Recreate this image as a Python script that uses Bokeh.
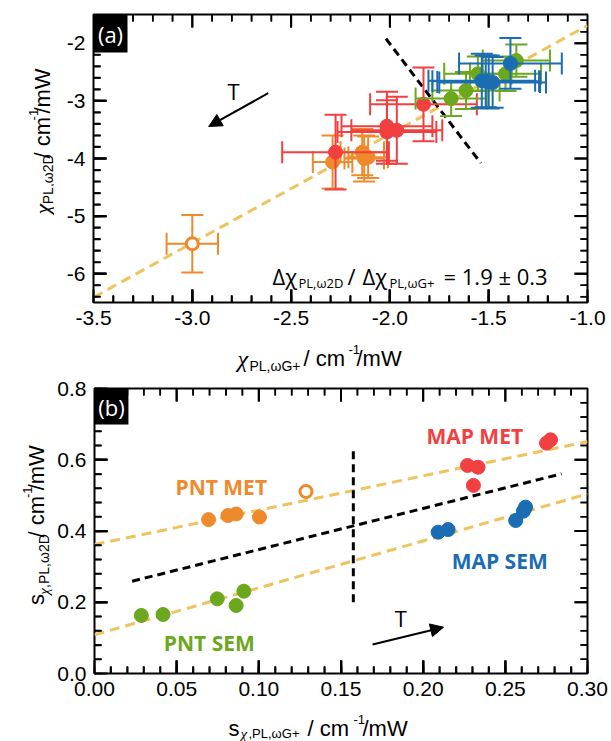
import numpy as np
from bokeh.plotting import figure
from bokeh.models import (FixedTicker, NumeralTickFormatter, Label, Whisker, ColumnDataSource,
                          Arrow, NormalHead, BoxAnnotation, Range1d)
from bokeh.layouts import column, row
from bokeh.embed import file_html
from bokeh.resources import INLINE

# ---------------- panel (a) data ----------------
a_pntmet_x = [-2.29, -2.14, -2.13, -2.11]
a_pntmet_y = [-4.06, -3.89, -4.00, -3.98]
a_pntmet_xerr = [0.10, 0.11, 0.10, 0.10]
a_pntmet_yerr = [0.46, 0.40, 0.40, 0.36]

a_pntmet_open_x = [-3.00]
a_pntmet_open_y = [-5.48]
a_pntmet_open_xerr = [0.13]
a_pntmet_open_yerr = [0.50]

a_mapmet_x = [-2.275, -2.015, -2.015, -1.965, -1.83]
a_mapmet_y = [-3.89, -3.44, -3.54, -3.51, -3.06]
a_mapmet_xerr = [0.27, 0.23, 0.25, 0.23, 0.27]
a_mapmet_yerr = [0.65, 0.60, 0.55, 0.58, 0.64]

a_pntsem_x = [-1.69, -1.615, -1.555, -1.415, -1.36]
a_pntsem_y = [-2.96, -2.82, -2.53, -2.53, -2.30]
a_pntsem_xerr = [0.18, 0.17, 0.17, 0.18, 0.17]
a_pntsem_yerr = [0.30, 0.32, 0.30, 0.30, 0.28]

a_mapsem_x = [-1.535, -1.515, -1.50, -1.48, -1.39]
a_mapsem_y = [-2.65, -2.66, -2.67, -2.68, -2.35]
a_mapsem_xerr = [0.27, 0.27, 0.26, 0.27, 0.26]
a_mapsem_yerr = [0.47, 0.45, 0.46, 0.44, 0.44]

a_fit_x = [-3.5, -1.0]
a_fit_y = [-6.41, -1.69]
a_div_x = [-2.02, -1.54]
a_div_y = [-1.92, -4.08]
a_arrow_x = [-2.616, -2.917]
a_arrow_y = [-2.866, -3.444]

a_xticks = [-3.5, -3.0, -2.5, -2.0, -1.5, -1.0]
a_yticks = [-6, -5, -4, -3, -2]

# ---------------- panel (b) data ----------------
b_pntmet_x = [0.0694, 0.0812, 0.0862, 0.1004]
b_pntmet_y = [0.432, 0.4435, 0.448, 0.439]
b_pntmet_open_x = [0.1287]
b_pntmet_open_y = [0.511]
b_mapmet_x = [0.227, 0.2334, 0.2306, 0.2751, 0.2775]
b_mapmet_y = [0.584, 0.579, 0.528, 0.6466, 0.656]
b_mapsem_x = [0.2091, 0.2152, 0.2563, 0.261, 0.2623]
b_mapsem_y = [0.3967, 0.404, 0.4295, 0.4557, 0.467]
b_pntsem_x = [0.0285, 0.0417, 0.0747, 0.0862, 0.0909]
b_pntsem_y = [0.163, 0.1656, 0.2096, 0.191, 0.231]

b_fit_met_x = [0.0, 0.3]
b_fit_met_y = [0.362, 0.651]
b_fit_sem_x = [0.0, 0.3]
b_fit_sem_y = [0.1086, 0.504]
b_div_x = [0.0229, 0.2842]
b_div_y = [0.259, 0.5605]
b_vdiv_x = [0.1575, 0.1575]
b_vdiv_y = [0.20, 0.635]
b_arrow_x = [0.1692, 0.2124]
b_arrow_y = [0.0814, 0.130]

b_xticks = [0.0, 0.05, 0.10, 0.15, 0.20, 0.25, 0.30]
b_yticks = [0.0, 0.2, 0.4, 0.6, 0.8]

# ---------------- styles / geometry ----------------
ORANGE = "#EE8A2C"
RED = "#F23F3F"
GREEN = "#6BA81E"
BLUE = "#1A6DB3"
YELLOW = "#EFC35E"
SANS = "Liberation Sans"
OPEN = "Open Sans"
SERIF = "Liberation Serif"

W = 611
YL_W = 54                   # width of the y-title strip
FL, FR = 93, 587            # frame left/right (page px)
A_TOP, A_BOT, A_H = 14, 302, 340
XA_H = 35
B_OFF, B_TOP, B_BOT, B_H = 375, 388, 673, 333
XB_H = 741 - (B_OFF + B_H)

A_XR, A_YR = (-3.5, -1.0), (-6.5, -1.5)
B_XR, B_YR = (0.0, 0.30), (0.0, 0.80)


def ax(px):
    return A_XR[0] + (px - FL) / (FR - FL) * (A_XR[1] - A_XR[0])


def ay(py):
    return A_YR[1] - (py - A_TOP) / (A_BOT - A_TOP) * (A_YR[1] - A_YR[0])


def bx(px):
    return B_XR[0] + (px - FL) / (FR - FL) * (B_XR[1] - B_XR[0])


def by(py):
    return B_YR[0] + (B_BOT - py) / (B_BOT - B_TOP) * (B_YR[1] - B_YR[0])


def make_fig(xr, yr, height, top, bottom):
    p = figure(width=W - YL_W, height=height, x_range=Range1d(*xr), y_range=Range1d(*yr),
               output_backend="svg", toolbar_location=None,
               min_border_left=FL - YL_W, min_border_right=W - FR,
               min_border_top=top, min_border_bottom=bottom)
    p.xgrid.visible = False
    p.ygrid.visible = False
    p.outline_line_color = "black"
    p.outline_line_width = 2
    p.outline_line_alpha = 1
    p.background_fill_color = "white"
    p.border_fill_color = "white"
    return p


def style_axis(axis, ticks, minor, fmt, standoff=8):
    axis.ticker = FixedTicker(ticks=list(ticks), minor_ticks=list(minor))
    axis.formatter = NumeralTickFormatter(format=fmt)
    axis.axis_line_color = None
    axis.major_tick_in = 13
    axis.major_tick_out = 0
    axis.minor_tick_in = 7
    axis.minor_tick_out = 0
    axis.major_tick_line_color = "black"
    axis.minor_tick_line_color = "black"
    axis.major_tick_line_width = 2
    axis.minor_tick_line_width = 1.6
    axis.major_label_text_font = SANS
    axis.major_label_text_color = "black"
    axis.major_label_text_font_size = "21px"
    axis.major_label_standoff = standoff
    axis.axis_label = None


def inner_ticks(p, xr, yr, xt, xm, yt, ym, frame_w, frame_h):
    # inward ticks on all four sides, drawn on the top (overlay) level;
    # lengths in screen pixels converted through the panel's own scale
    dx = (xr[1] - xr[0]) / frame_w
    dy = (yr[1] - yr[0]) / frame_h
    xin = [float(v) for v in xt if xr[0] < v < xr[1]]
    yin = [float(v) for v in yt if yr[0] < v < yr[1]]
    xmin = [float(v) for v in xm if min(abs(v - t) for t in xt) > 1e-9 and xr[0] < v < xr[1]]
    ymin = [float(v) for v in ym if min(abs(v - t) for t in yt) > 1e-9 and yr[0] < v < yr[1]]
    for vals, L, w in [(xin, 13, 2.0), (xmin, 7, 1.6)]:
        n = len(vals)
        for base, sgn in [(yr[0], 1), (yr[1], -1)]:
            y0, y1 = base + sgn * 0.5 * dy, base + sgn * L * dy
            r = p.segment(vals, [y0] * n, vals, [y1] * n, line_color="black", line_width=w)
            r.level = "overlay"
            src = ColumnDataSource(dict(b=vals, lo=[min(y0, y1)] * n, hi=[max(y0, y1)] * n))
            p.add_layout(Whisker(source=src, base="b", lower="lo", upper="hi",
                                 dimension="height", lower_head=None, upper_head=None,
                                 line_color="black", line_width=w, level="overlay"))
    for vals, L, w in [(yin, 13, 2.0), (ymin, 7, 1.6)]:
        n = len(vals)
        for base, sgn in [(xr[0], 1), (xr[1], -1)]:
            x0, x1 = base + sgn * 0.5 * dx, base + sgn * L * dx
            r = p.segment([x0] * n, vals, [x1] * n, vals, line_color="black", line_width=w)
            r.level = "overlay"
            src = ColumnDataSource(dict(b=vals, lo=[min(x0, x1)] * n, hi=[max(x0, x1)] * n))
            p.add_layout(Whisker(source=src, base="b", lower="lo", upper="hi",
                                 dimension="width", lower_head=None, upper_head=None,
                                 line_color="black", line_width=w, level="overlay"))


def errbars(p, x, y, xe, ye, color, cap=22, lw=2):
    x = np.array(x); y = np.array(y); xe = np.array(xe); ye = np.array(ye)
    p.segment(x - xe, y, x + xe, y, line_color=color, line_width=lw)
    p.segment(x, y - ye, x, y + ye, line_color=color, line_width=lw)
    p.scatter(np.concatenate([x - xe, x + xe]), np.concatenate([y, y]), marker="dash",
              size=cap, angle=np.pi / 2, line_color=color, line_width=lw)
    p.scatter(np.concatenate([x, x]), np.concatenate([y - ye, y + ye]), marker="dash",
              size=cap, angle=0, line_color=color, line_width=lw)


def dots(p, x, y, color, size=14):
    p.scatter(x, y, size=size, fill_color=color, line_color=color, line_width=1)


def lab(p, x, y, text, size, font=SANS, color="black", style="normal",
        angle=0.0, align="left", baseline="alphabetic"):
    p.add_layout(Label(x=x, y=y, text=text, text_font=font, text_font_size=f"{size}px",
                       text_color=color, text_font_style=style, angle=angle,
                       text_align=align, text_baseline=baseline))


def strip(w, h):
    s = figure(width=w, height=h, x_range=Range1d(0, w), y_range=Range1d(0, h),
               output_backend="svg", toolbar_location=None,
               x_axis_location=None, y_axis_location=None,
               min_border=0, min_border_left=0, min_border_right=0,
               min_border_top=0, min_border_bottom=0)
    s.xgrid.visible = False
    s.ygrid.visible = False
    s.outline_line_color = None
    s.background_fill_color = "white"
    s.border_fill_color = "white"
    return s


# ================= panel (a) =================
a_xminor = np.round(np.arange(-3.5, -0.999, 0.1), 2)
a_yminor = np.round(np.arange(-6.4, -1.49, 0.2), 2)
pa = make_fig(A_XR, A_YR, A_H, A_TOP, A_H - A_BOT)
style_axis(pa.xaxis[0], a_xticks, a_xminor, "0.0")
style_axis(pa.yaxis[0], a_yticks, a_yminor, "0")

pa.line(a_fit_x, a_fit_y, line_color=YELLOW, line_width=3, line_dash="10 6")
pa.line(a_div_x, a_div_y, line_color="black", line_width=3, line_dash="8 5")

errbars(pa, a_pntmet_open_x, a_pntmet_open_y, a_pntmet_open_xerr, a_pntmet_open_yerr, ORANGE)
pa.scatter(a_pntmet_open_x, a_pntmet_open_y, size=12, fill_color="white",
           line_color=ORANGE, line_width=3)
errbars(pa, a_pntmet_x, a_pntmet_y, a_pntmet_xerr, a_pntmet_yerr, ORANGE)
dots(pa, a_pntmet_x, a_pntmet_y, ORANGE)
errbars(pa, a_mapmet_x, a_mapmet_y, a_mapmet_xerr, a_mapmet_yerr, RED)
dots(pa, a_mapmet_x, a_mapmet_y, RED)
errbars(pa, a_pntsem_x, a_pntsem_y, a_pntsem_xerr, a_pntsem_yerr, GREEN)
dots(pa, a_pntsem_x, a_pntsem_y, GREEN)
errbars(pa, a_mapsem_x, a_mapsem_y, a_mapsem_xerr, a_mapsem_yerr, BLUE)
dots(pa, a_mapsem_x, a_mapsem_y, BLUE)

pa.add_layout(Arrow(end=NormalHead(size=13, fill_color="black", line_color="black"),
                    x_start=a_arrow_x[0], y_start=a_arrow_y[0],
                    x_end=a_arrow_x[1], y_end=a_arrow_y[1],
                    line_color="black", line_width=2))
lab(pa, ax(233), ay(90), "T", 22, font=OPEN, align="center", baseline="middle")

lab(pa, ax(272), ay(275), "Δχ", 22, font=OPEN)
lab(pa, ax(298), ay(282), "PL,ω2D", 13, font=OPEN)
lab(pa, ax(347), ay(275), "/", 22, font=OPEN)
lab(pa, ax(362), ay(275), "Δχ", 22, font=OPEN)
lab(pa, ax(389), ay(282), "PL,ωG+", 13, font=OPEN)
lab(pa, ax(443), ay(275), "= 1.9 ± 0.3", 22, font=OPEN)

inner_ticks(pa, A_XR, A_YR, a_xticks, a_xminor, a_yticks, a_yminor, FR - FL, A_BOT - A_TOP)

tag_a = BoxAnnotation(left=A_XR[0], right=ax(127), top=A_YR[1], bottom=ay(52),
                      fill_color="black", fill_alpha=1, line_color=None, level="overlay")
pa.add_layout(tag_a)
tag_a_text = Label(x=ax(110), y=ay(33), text="(a)", text_font=OPEN, text_font_size="22px",
                   text_color="white", text_align="center", text_baseline="middle",
                   level="overlay")
pa.add_layout(tag_a_text)

# y-title strip (a): page origin (0, 0), size YL_W x A_H
yla = strip(YL_W, A_H)
ya0 = 236
def ya_(py): return A_H - py
lab(yla, 42, ya_(ya0), "χ", 24, font=SERIF, style="italic", angle=np.pi / 2)
lab(yla, 47, ya_(ya0 - 12), "PL,ω2D", 14, angle=np.pi / 2)
lab(yla, 42, ya_(ya0 - 66), "/ cm", 22, angle=np.pi / 2)
lab(yla, 33, ya_(ya0 - 111), "-1", 13, angle=np.pi / 2)
lab(yla, 42, ya_(ya0 - 119), "/mW", 22, angle=np.pi / 2)

# x-title strip (a): page origin (0, A_H)
xla = strip(W, XA_H)
def xa_(py): return A_H + XA_H - py
lab(xla, 237, xa_(358), "χ", 24, font=SERIF, style="italic")
lab(xla, 249, xa_(365), "PL,ωG+", 14)
lab(xla, 303, xa_(358), "/ cm", 22)
lab(xla, 348, xa_(349), "-1", 13)
lab(xla, 356, xa_(358), "/mW", 22)

# ================= panel (b) =================
b_xminor = np.round(np.arange(0, 0.3001, 0.01), 3)
b_yminor = np.round(np.arange(0, 0.8001, 0.04), 3)
pb = make_fig(B_XR, B_YR, B_H, B_TOP - B_OFF, B_OFF + B_H - B_BOT)
style_axis(pb.xaxis[0], b_xticks, b_xminor, "0.00")
style_axis(pb.yaxis[0], b_yticks, b_yminor, "0.0")

pb.line(b_fit_met_x, b_fit_met_y, line_color=YELLOW, line_width=3, line_dash="10 6")
pb.line(b_fit_sem_x, b_fit_sem_y, line_color=YELLOW, line_width=3, line_dash="10 6")
pb.line(b_div_x, b_div_y, line_color="black", line_width=3, line_dash="8 5")
pb.line(b_vdiv_x, b_vdiv_y, line_color="black", line_width=3, line_dash="8 5")

dots(pb, b_pntmet_x, b_pntmet_y, ORANGE)
pb.scatter(b_pntmet_open_x, b_pntmet_open_y, size=12, fill_color="white",
           line_color=ORANGE, line_width=3)
dots(pb, b_mapmet_x, b_mapmet_y, RED)
dots(pb, b_mapsem_x, b_mapsem_y, BLUE)
dots(pb, b_pntsem_x, b_pntsem_y, GREEN)

pb.add_layout(Arrow(end=NormalHead(size=13, fill_color="black", line_color="black"),
                    x_start=b_arrow_x[0], y_start=b_arrow_y[0],
                    x_end=b_arrow_x[1], y_end=b_arrow_y[1],
                    line_color="black", line_width=2))
lab(pb, bx(400), by(617), "T", 22, font=OPEN, align="center", baseline="middle")

lab(pb, bx(474), by(435), "MAP MET", 21, font=OPEN, color=RED, style="bold",
    align="center", baseline="middle")
lab(pb, bx(220), by(486), "PNT MET", 21, font=OPEN, color=ORANGE, style="bold",
    align="center", baseline="middle")
lab(pb, bx(499), by(560), "MAP SEM", 21, font=OPEN, color=BLUE, style="bold",
    align="center", baseline="middle")
lab(pb, bx(208), by(642), "PNT SEM", 21, font=OPEN, color=GREEN, style="bold",
    align="center", baseline="middle")

inner_ticks(pb, B_XR, B_YR, b_xticks, b_xminor, b_yticks, b_yminor, FR - FL, B_BOT - B_TOP)

tag_b = BoxAnnotation(left=B_XR[0], right=bx(127), top=B_YR[1], bottom=by(424),
                      fill_color="black", fill_alpha=1, line_color=None, level="overlay")
pb.add_layout(tag_b)
tag_b_text = Label(x=bx(110), y=by(406), text="(b)", text_font=OPEN, text_font_size="22px",
                   text_color="white", text_align="center", text_baseline="middle",
                   level="overlay")
pb.add_layout(tag_b_text)

# y-title strip (b): page origin (0, B_OFF)
ylb = strip(YL_W, B_H)
def yb_(py): return B_OFF + B_H - py
yb0 = 628
lab(ylb, 36, yb_(yb0), "s", 22, angle=np.pi / 2)
lab(ylb, 43, yb_(yb0 - 12), "χ", 15, font=SERIF, style="italic", angle=np.pi / 2)
lab(ylb, 43, yb_(yb0 - 20), ",PL,ω2D", 14, angle=np.pi / 2)
lab(ylb, 36, yb_(yb0 - 79), "/ cm", 22, angle=np.pi / 2)
lab(ylb, 27, yb_(yb0 - 125), "-1", 13, angle=np.pi / 2)
lab(ylb, 36, yb_(yb0 - 134), "/mW", 22, angle=np.pi / 2)

# x-title strip (b): page origin (0, B_OFF + B_H)
xlb = strip(W, XB_H)
def xb_(py): return 741 - py
lab(xlb, 228, xb_(728), "s", 22)
lab(xlb, 240, xb_(733), "χ", 15, font=SERIF, style="italic")
lab(xlb, 248, xb_(733), ",PL,ωG+", 13)
lab(xlb, 307, xb_(728), "/ cm", 22)
lab(xlb, 353, xb_(719), "-1", 13)
lab(xlb, 362, xb_(728), "/mW", 22)

layout = column(row(yla, pa, spacing=0), xla, row(ylb, pb, spacing=0), xlb, spacing=0)
open("out.html", "w").write(file_html(layout, INLINE))
